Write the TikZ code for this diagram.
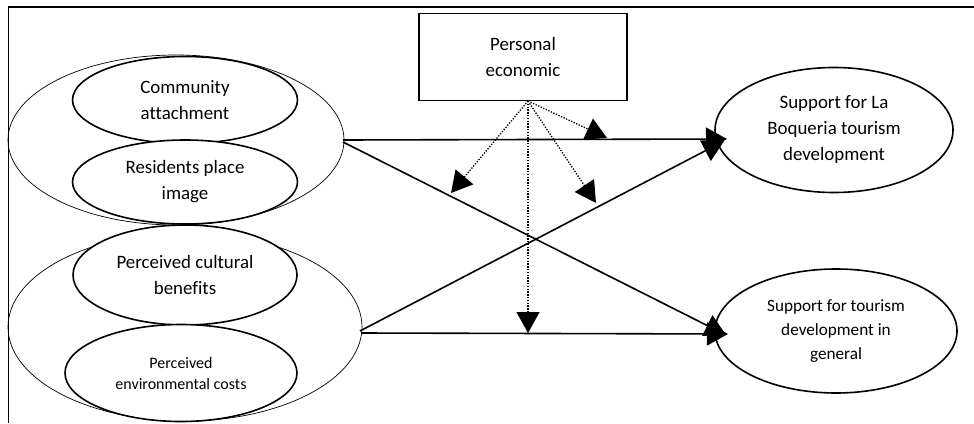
\documentclass[tikz,border=0pt]{standalone}
\usepackage{fontspec}
\setmainfont{Carlito}[Ligatures=NoCommon]
\usetikzlibrary{shapes.geometric,arrows.meta}
\begin{document}
\begin{tikzpicture}[x=1pt,y=-1pt,
  outerell/.style={draw,ellipse,line width=0.7pt,inner sep=0pt},
  innerell/.style={draw,ellipse,fill=white,line width=1.6pt,inner sep=0pt,align=center,font=\fontsize{18.9}{26}\selectfont},
  boxnode/.style={draw,rectangle,line width=1.6pt,inner sep=0pt,align=center,font=\fontsize{18.9}{26}\selectfont},
  tip/.style={-{Triangle[length=21pt,width=23pt]}},
  mainarrow/.style={tip,line width=1.6pt},
  dotarrow/.style={tip,line width=1.3pt,dash pattern=on 1.3pt off 1.5pt},
  framel/.style={line width=1.2pt}
]
\useasboundingbox (0,0) rectangle (974,423);
% frame
\coordinate (fr1) at (974,7);
\coordinate (fr2) at (8.5,7);
\coordinate (fr3) at (8.5,423);
\draw[framel] (fr1) -- (fr2) -- (fr3);
% outer ellipses
\node[outerell,minimum width=336pt,minimum height=170pt] (O1) at (176,140) {};
\node[outerell,minimum width=354pt,minimum height=188pt] (O2) at (185,327) {};
% inner ellipses
\node[innerell,minimum width=225pt,minimum height=87pt] (ca) at (185,100) {Community\\attachment};
\node[innerell,minimum width=225pt,minimum height=84pt] (rp) at (185,182) {Residents place\\image};
\node[innerell,minimum width=224pt,minimum height=100pt] (pc) at (185,275) {Perceived cultural\\benefits};
\node[innerell,minimum width=232pt,minimum height=97pt,font=\fontsize{16}{21}\selectfont] (pe) at (181,373) {Perceived\\environmental costs};
% box
\node[boxnode,minimum width=208pt,minimum height=87pt] (pb) at (523,57) {Personal\\economic};
% right ellipses
\node[innerell,minimum width=238pt,minimum height=125pt] (r1) at (834,130) {Support for La\\Boqueria tourism\\development};
\node[innerell,minimum width=242pt,minimum height=124pt,font=\fontsize{17.2}{24}\selectfont] (r2) at (836,331) {Support for tourism\\development in\\general};
% connector points
\coordinate (s1) at (343,140);
\coordinate (s1b) at (343,142);
\coordinate (s2) at (361,333);
\coordinate (s2b) at (360,331);
\coordinate (t1) at (727,139);
\coordinate (t1b) at (724,141);
\coordinate (t2) at (728,334);
\coordinate (t2b) at (726,335);
% main arrows
\draw[mainarrow] (s1) -- (t1);
\draw[mainarrow] (s1b) -- (t2b);
\draw[mainarrow] (s2) -- (t2);
\draw[mainarrow] (s2b) -- (t1b);
% dotted moderator arrows
\coordinate (m0) at (528,101);
\coordinate (d1) at (607,138);
\coordinate (d2) at (451,193);
\coordinate (d3) at (596,203);
\coordinate (d4) at (528,333);
\draw[dotarrow] (m0) -- (d1);
\draw[dotarrow] (m0) -- (d2);
\draw[dotarrow] (m0) -- (d3);
\draw[dotarrow] (m0) -- (d4);
\end{tikzpicture}
\end{document}
